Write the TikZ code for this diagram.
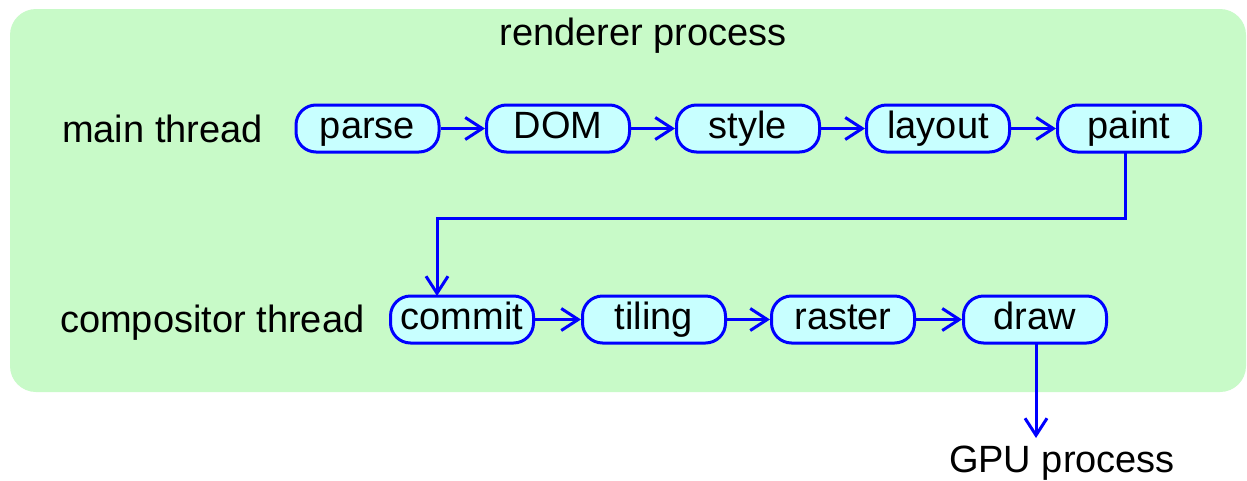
\documentclass[tikz,border=0pt]{standalone}
\usepackage{fontspec}
\setmainfont{Liberation Sans}
\usetikzlibrary{arrows.meta}
\definecolor{procgreen}{HTML}{C8FAC8}
\definecolor{boxfill}{HTML}{C8FFFF}
\definecolor{linkblue}{HTML}{0000FF}
\tikzset{
  stage/.style={draw=linkblue, fill=boxfill, line width=3pt, rounded corners=20pt,
    minimum width=143pt, minimum height=47pt, inner sep=0pt,
    font=\fontsize{38}{44}\selectfont, text height=27pt, text depth=7pt},
  label/.style={font=\fontsize{38}{44}\selectfont, inner sep=0pt},
  flow/.style={draw=linkblue, line width=3pt, -{Straight Barb[length=17pt,width=22pt,line width=3pt]}}
}
\begin{document}
\begin{tikzpicture}[x=1pt,y=-1pt]
  \useasboundingbox (0,0) rectangle (1247,480);
  \fill[white] (0,0) rectangle (1247,480);
  \fill[procgreen, rounded corners=26pt] (10,9) rectangle (1246,392);

  \node[label] (title) at (643,36) {renderer process};
  \node[label, anchor=west] (mainlbl) at (62,129) {main thread};
  \node[label, anchor=west] (complbl) at (60,323) {compositor thread};

  \node[stage] (parse)  at (367.5,128.5) {parse};
  \node[stage] (dom)    at (558,128.5)   {DOM};
  \node[stage] (style)  at (748,128.5)   {style};
  \node[stage] (layout) at (938,128.5)   {layout};
  \node[stage] (paint)  at (1129,128.5)  {paint};

  \node[stage] (commit) at (462,319.5)  {commit};
  \node[stage] (tiling) at (654,319.5)  {tiling};
  \node[stage] (raster) at (843,319.5)  {raster};
  \node[stage] (draw)   at (1035,319.5) {draw};

  \node[label, anchor=north] (gpu) at (1062,446) {GPU process};

  \draw[flow] (parse) -- (dom);
  \draw[flow] (dom) -- (style);
  \draw[flow] (style) -- (layout);
  \draw[flow] (layout) -- (paint);
  \draw[flow] (commit) -- (tiling);
  \draw[flow] (tiling) -- (raster);
  \draw[flow] (raster) -- (draw);

  \coordinate (pdown) at (1125,152);
  \coordinate (cin) at (437,296);
  \draw[flow] (pdown) -- (1125,218) -- (437,218) -- (cin);
  \coordinate (dout) at (1036,343);
  \coordinate (gin) at (1036,438);
  \draw[flow] (dout) -- (gin);
\end{tikzpicture}
\end{document}
